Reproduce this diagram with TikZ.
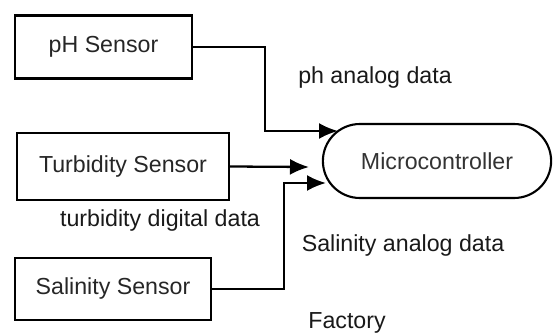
\documentclass[tikz,border=0pt]{standalone}
\usepackage{fontspec}
\setmainfont{Liberation Sans}
\usetikzlibrary{shapes,arrows.meta,positioning}

\begin{document}
\begin{tikzpicture}[x=0.02cm,y=-0.02cm,
  sensor/.style={draw=black,line width=1.3pt,minimum height=1.26cm,align=center,text=black!85,font=\fontsize{13.2}{15}\selectfont},
  lbl/.style={align=center,text=black!90,font=\fontsize{13.2}{15}\selectfont},
  wire/.style={->,>={Latex[length=3.8mm,width=3.2mm]},line width=1.3pt}]
\useasboundingbox (0,0) rectangle (557,334);
% Sensors
\node[sensor,minimum width=3.54cm](ph) at (103.5,47){pH Sensor};
\node[sensor,minimum width=4.24cm,minimum height=1.34cm](turb) at (123,166.5){Turbidity Sensor};
\node[sensor,minimum width=3.92cm,minimum height=1.24cm](sal) at (113,289){Salinity Sensor};
% Microcontroller
\node[rounded rectangle,draw=black,line width=1.2pt,minimum width=4.8cm,minimum height=1.48cm,text=black!80,font=\fontsize{13.2}{15}\selectfont](mcu) at (437,161){Microcontroller};
% Arrow ends
\coordinate (in1) at (338,131);
\coordinate (in2) at (309,167);
\coordinate (in3) at (326,183);
% Arrows
\draw[wire] (ph.east) -- ++(72,0) |- (in1);
\draw[wire] (turb.east) -- (in2);
\draw[wire] (sal.east) -- ++(72,0) |- (in3);
% Labels
\node[lbl](phdata) at (375,78){ph analog data};
\node[lbl](turbdata) at (160,221){turbidity digital data};
\node[lbl](saldata) at (403,246){Salinity analog data};
\node[lbl](factory) at (347,323){Factory};
\end{tikzpicture}
\end{document}
